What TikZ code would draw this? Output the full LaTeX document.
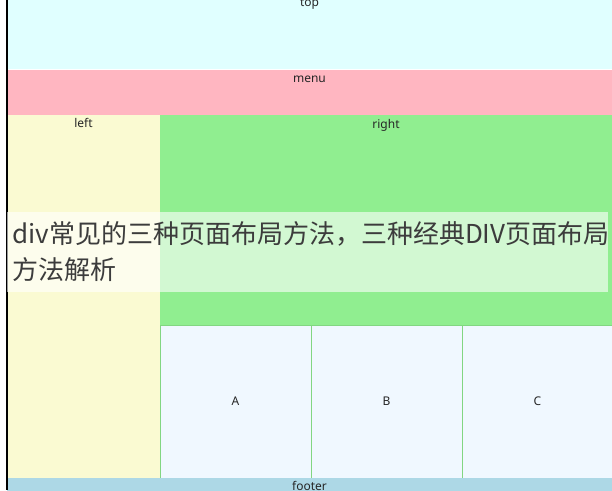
\documentclass[tikz,border=0pt]{standalone}
\usepackage{fontspec}
\setmainfont{Noto Sans}
\newfontfamily\cjk{Noto Sans CJK SC}
\usetikzlibrary{positioning}
\definecolor{topcyan}{HTML}{E0FFFF}
\definecolor{menupink}{HTML}{FFB6C1}
\definecolor{leftyellow}{HTML}{FAFAD2}
\definecolor{rightgreen}{HTML}{90EE90}
\definecolor{cellblue}{HTML}{F0F8FF}
\definecolor{footblue}{HTML}{ADD8E6}
\definecolor{captiongray}{HTML}{3C3C3C}
\tikzstyle{region} = [rectangle, inner sep=0pt, outer sep=0pt, anchor=north west]
\tikzstyle{lbl} = [inner sep=0pt, text height=7pt, text depth=2pt,
    text=black!85, font=\fontsize{12}{14}\selectfont]
\tikzstyle{cell} = [region, fill=cellblue, draw=rightgreen!90!black, line width=1pt,
    minimum width=151pt, minimum height=153pt, lbl]
\tikzstyle{banner} = [region, fill=white, fill opacity=0.6,
    minimum width=601pt, minimum height=80pt]
\tikzstyle{caption} = [inner sep=0pt, anchor=north west, align=left,
    text=captiongray, font=\cjk\fontsize{26}{36}\selectfont]

\begin{document}
\begin{tikzpicture}[x=1pt, y=-1pt]
    \clip (0,0) rectangle (612,490);
    \fill [white] (0,0) rectangle (612,490);
    \node [region, fill=topcyan, minimum width=605pt, minimum height=69pt] (top) at (7,0) {};
    \node [region, fill=menupink, minimum width=605pt, minimum height=45pt] (menu) at (7,70) {};
    \node [region, fill=leftyellow, minimum width=153pt, minimum height=363pt] (left) at (7,115) {};
    \node [region, fill=rightgreen, minimum width=452pt, minimum height=210pt] (right) at (160,115) {};
    \node [cell, text depth=0pt] (cellA) at (160,325) {A};
    \node [cell, text depth=0pt, right=0pt of cellA] (cellB) {B};
    \node [cell, text depth=0pt, right=0pt of cellB] (cellC) {C};
    \node [region, fill=footblue, minimum width=605pt, minimum height=20pt] (footer) at (7,478) {};
    \draw [line width=1.5pt] (6.75,0) -- (6.75,490);
    % region labels
    \node [lbl, below=-1pt of top.north] (toplbl) {top};
    \node [lbl, below=5pt of menu.north] (menulbl) {menu};
    \node [lbl, below=5pt of left.north] (leftlbl) {left};
    \node [lbl, below=6pt of right.north] (rightlbl) {right};
    \node [lbl, below=5.5pt of footer.north] (footerlbl) {footer};
    % caption over the page
    \node [banner] (band) at (7,212) {};
    \node [caption] (title) at (12,221) {div常见的三种页面布局方法，三种经典DIV页面布局\\方法解析};
\end{tikzpicture}
\end{document}
